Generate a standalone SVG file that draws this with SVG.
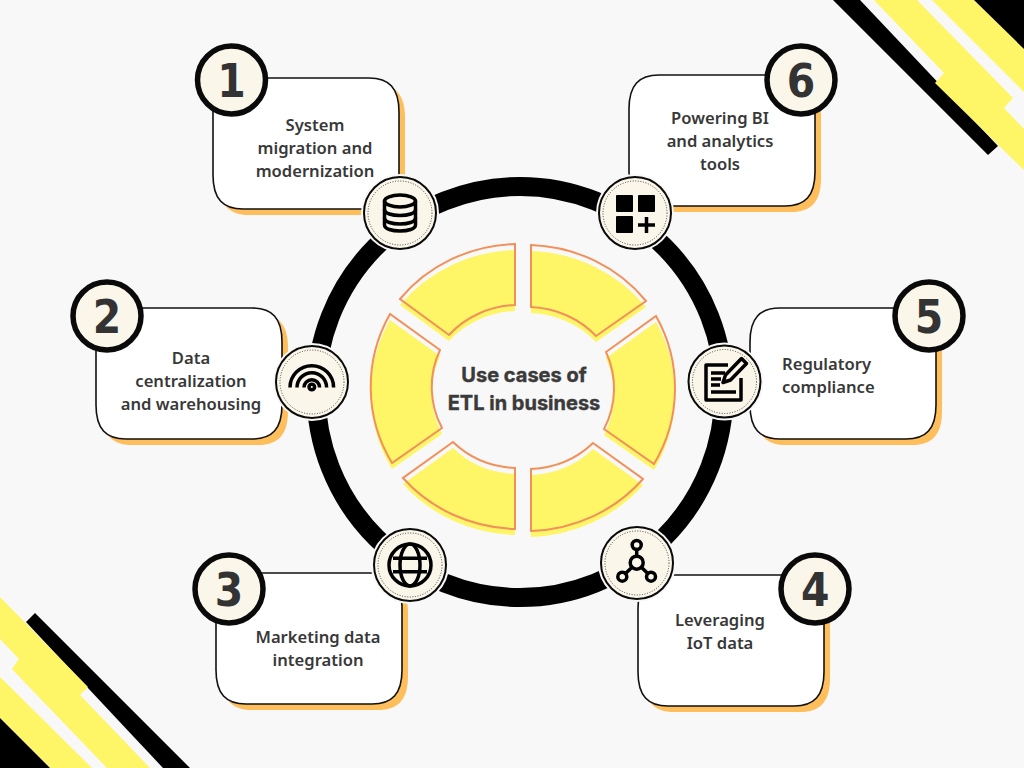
<svg xmlns="http://www.w3.org/2000/svg" width="1024" height="768" viewBox="0 0 1024 768">
<defs>
<style>
.y{fill:#FEF567}
.k{fill:#000}
.seg{fill:none;stroke:#F2905A;stroke-width:2;stroke-linejoin:miter}
.card{fill:#fff;stroke:#111;stroke-width:1.6}
.shadow{fill:#FFBE5C}
.num{fill:#FBF6EA;stroke:#0a0a0a;stroke-width:5.500}
.numt{font:700 45.500px "DejaVu Sans",sans-serif;font-stretch:condensed;fill:#333;text-anchor:middle}
.lbl{font:600 16.600px "Noto Sans",sans-serif;fill:#383838;text-anchor:middle}
.halo{fill:#FBF6EA;stroke:#F8F8F8;stroke-width:2}
.disc{fill:#FBF6EA;stroke:#0a0a0a;stroke-width:2}
.dots{fill:none;stroke:#444;stroke-width:1;stroke-dasharray:1 1.6}
.ic{fill:none;stroke:#000;stroke-width:3.500;stroke-linecap:round;stroke-linejoin:round}
.center{font:700 20px "Inter",sans-serif;fill:#3a3a3a;stroke:#3a3a3a;stroke-width:.4;text-anchor:middle}
</style>
<path id="box" d="M30 0H156C176 0 186 10 186 34V97C186 121 176 131 156 131H30C10 131 0 121 0 97V34C0 10 10 0 30 0Z"/>
<path id="s1" d="M515 244A152 143 0 0 0 400 299L449 335A91 81 0 0 1 515 305Z"/>
<path id="s2" d="M531 245A152 143 0 0 1 646 301L596 336A91 81 0 0 0 531 307Z"/>
<path id="s3" d="M656 316A147 147 0 0 1 654 464L604 429A87 87 0 0 0 606 352Z"/>
<path id="s4" d="M390 314A147 147 0 0 0 392 463L442 428A87 87 0 0 1 440 350Z"/>
<path id="s5" d="M403 478A152 143 0 0 0 515 529L515 468A91 81 0 0 1 453 442Z"/>
<path id="s6" d="M643 479A152 143 0 0 1 531 531L531 469A91 81 0 0 0 593 443Z"/>
</defs>
<rect width="1024" height="768" fill="#F8F8F8"/>

<g id="corner-top-right">
<polygon class="k" points="833,0 860,0 998,146 988,155"/>
<polygon class="y" points="874,0 917,0 1013,98 1004,108 1024,129 1024,170 935,83 944,73"/>
<polygon class="y" points="932,0 974,0 1024,49 1024,92"/>
<polygon class="k" points="974,0 1024,0 1024,49"/>
</g>
<g id="corner-bottom-left">
<polygon class="k" points="35,613 190,768 163,768 26,622"/>
<polygon class="y" points="0,597 88,687 80,695 150,768 107,768 12,669 19,659 0,639"/>
<polygon class="y" points="0,677 92,768 50,768 0,718"/>
<polygon class="k" points="0,718 50,768 0,768"/>
</g>

<g id="connectors">
<ellipse cx="520" cy="392" rx="204" ry="205.500" fill="none" stroke="#000" stroke-width="19"/>
</g>

<g id="wheel">
<g class="y" transform="translate(0,6)">
<use href="#s1"/><use href="#s2"/><use href="#s3"/><use href="#s4"/><use href="#s5"/><use href="#s6"/>
</g>
<g class="seg">
<use href="#s1"/><use href="#s2"/><use href="#s3"/><use href="#s4"/><use href="#s5"/><use href="#s6"/>
</g>
</g>

<g id="center-label">
<text class="center" x="524" y="382">Use cases of</text>
<text class="center" x="524" y="410">ETL in business</text>
</g>

<g id="node-1">
<use href="#box" class="shadow" x="219" y="84"/>
<use href="#box" class="card" x="213" y="78"/>
<text class="lbl"><tspan x="315" y="131">System</tspan><tspan x="315" y="154">migration and</tspan><tspan x="315" y="177">modernization</tspan></text>
<circle class="num" cx="231.500" cy="80" r="34"/>
<text class="numt" x="231.500" y="96.500">1</text>
<circle class="halo" cx="400" cy="213" r="38"/>
<circle class="disc" cx="400" cy="213" r="36"/>
<circle class="dots" cx="400" cy="213" r="32"/>
<g class="ic">
<ellipse cx="400" cy="201" rx="15.500" ry="6"/>
<path d="M384.500 201V225C384.500 233 415.500 233 415.500 225V201"/>
<path d="M384.500 209.500C384.500 217.500 415.500 217.500 415.500 209.500M384.500 218C384.500 226 415.500 226 415.500 218"/>
</g>
</g>

<g id="node-2">
<use href="#box" class="shadow" x="102" y="314"/>
<use href="#box" class="card" x="96" y="308"/>
<text class="lbl"><tspan x="191" y="364">Data</tspan><tspan x="191" y="387">centralization</tspan><tspan x="191" y="410">and warehousing</tspan></text>
<circle class="num" cx="107" cy="316" r="34"/>
<text class="numt" x="107" y="332.500">2</text>
<circle class="halo" cx="312" cy="382" r="38"/>
<circle class="disc" cx="312" cy="382" r="36"/>
<circle class="dots" cx="312" cy="382" r="32"/>
<g class="ic" stroke-width="4">
<path d="M290 387.500A21.800 21.800 0 0 1 333.600 387.500" stroke-linecap="butt"/>
<path d="M297 387.500A14.800 14.800 0 0 1 326.600 387.500" stroke-linecap="butt"/>
<path d="M304 387.500A7.800 7.800 0 0 1 319.600 387.500" stroke-linecap="butt"/>
<circle cx="311.800" cy="387" r="2.800"/>
</g>
</g>

<g id="node-3">
<use href="#box" class="shadow" x="222" y="579"/>
<use href="#box" class="card" x="216" y="573"/>
<text class="lbl"><tspan x="318" y="643">Marketing data</tspan><tspan x="318" y="666">integration</tspan></text>
<circle class="num" cx="229" cy="589" r="34"/>
<text class="numt" x="229" y="605.500">3</text>
<circle class="halo" cx="410" cy="565" r="38"/>
<circle class="disc" cx="410" cy="565" r="36"/>
<circle class="dots" cx="410" cy="565" r="32"/>
<g class="ic" stroke-width="3.300">
<circle cx="410" cy="565" r="21"/>
<ellipse cx="410" cy="565" rx="10" ry="21"/>
<path d="M393 558.300H427M393 571.700H427" stroke-linecap="butt"/>
</g>
</g>

<g id="node-4">
<use href="#box" class="shadow" x="644" y="581"/>
<use href="#box" class="card" x="638" y="575"/>
<text class="lbl"><tspan x="720" y="626">Leveraging</tspan><tspan x="720" y="649">IoT data</tspan></text>
<circle class="num" cx="815" cy="589" r="34"/>
<text class="numt" x="815.300" y="605.500">4</text>
<circle class="halo" cx="637" cy="563" r="38"/>
<circle class="disc" cx="637" cy="563" r="36"/>
<circle class="dots" cx="637" cy="563" r="32"/>
<g class="ic" stroke-width="3.800">
<circle cx="636.700" cy="545" r="4.500"/>
<circle cx="636.700" cy="562.700" r="6.500"/>
<circle cx="622.300" cy="576.700" r="4.500"/>
<circle cx="651" cy="576.700" r="4.500"/>
<path d="M636.700 549.500V556M632 567.300L625.500 573.500M641.400 567.300L647.800 573.500"/>
</g>
</g>

<g id="node-5">
<use href="#box" class="shadow" x="756" y="314"/>
<use href="#box" class="card" x="750" y="308"/>
<text class="lbl" style="text-anchor:start"><tspan x="782" y="370">Regulatory</tspan><tspan x="782" y="393">compliance</tspan></text>
<circle class="num" cx="929" cy="316" r="34"/>
<text class="numt" x="929" y="332.500">5</text>
<circle class="halo" cx="724.500" cy="381.500" r="38"/>
<circle class="disc" cx="724.500" cy="381.500" r="36"/>
<circle class="dots" cx="724.500" cy="381.500" r="32"/>
<g class="ic" stroke-width="3" stroke-linecap="butt" stroke-linejoin="miter">
<path d="M728 365H706V400H741V378" stroke-linecap="butt"/>
<path d="M711 373H725M711 379H721M711 385H720M711 392H736" stroke-linecap="butt"/>
<path d="M723 382.500L725.500 375L741.500 358.500L746.500 363.500L730.500 380Z"/>
</g>
</g>

<g id="node-6">
<use href="#box" class="shadow" x="635" y="81"/>
<use href="#box" class="card" x="629" y="75"/>
<text class="lbl"><tspan x="720" y="124">Powering BI</tspan><tspan x="720" y="147">and analytics</tspan><tspan x="720" y="170">tools</tspan></text>
<circle class="num" cx="801" cy="80" r="34"/>
<text class="numt" x="801" y="96.500">6</text>
<circle class="halo" cx="635" cy="213" r="38"/>
<circle class="disc" cx="635" cy="213" r="36"/>
<circle class="dots" cx="635" cy="213" r="32"/>
<g>
<rect x="616" y="195" width="17" height="17" rx="1"/>
<rect x="638" y="195" width="17" height="17" rx="1"/>
<rect x="616" y="216" width="17" height="17" rx="1"/>
<path d="M646.500 217V233M638 225H655" stroke="#000" stroke-width="3.500" fill="none"/>
</g>
</g>
</svg>
